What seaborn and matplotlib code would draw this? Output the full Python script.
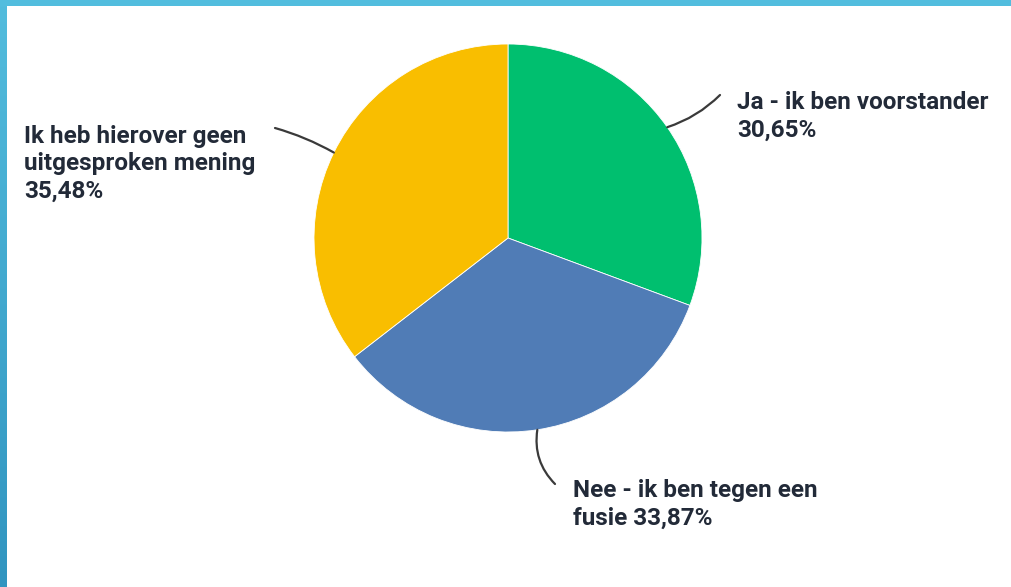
import numpy as np
import matplotlib
matplotlib.use("Agg")
import matplotlib.pyplot as plt
from matplotlib.patches import Rectangle
import seaborn as sns

# Survey answers: share of respondents per answer (in %)
labels = [
    "Ja - ik ben voorstander",
    "Nee - ik ben tegen een\nfusie",
    "Ik heb hierover geen\nuitgesproken mening",
]
shares = [30.65, 33.87, 35.48]
colors = ["#00BF6F", "#507CB6", "#F9BE00"]

sns.set_theme(style="white")
plt.rcParams["font.family"] = ["Roboto", "DejaVu Sans"]

W, H = 1012, 587
fig = plt.figure(figsize=(W / 100, H / 100), dpi=100)
fig.patch.set_facecolor("white")

ax = fig.add_axes([0, 0, 1, 1])
ax.set_xlim(0, W)
ax.set_ylim(0, H)
ax.set_aspect("equal")
ax.axis("off")

cx, cy, r = 508, H - 238, 194
wedges, _ = ax.pie(shares, colors=colors, startangle=90, counterclock=False,
                   center=(cx, cy), radius=r,
                   wedgeprops=dict(linewidth=0.6, edgecolor="white"))
ax.set_xlim(0, W)
ax.set_ylim(0, H)

def fmt(v):
    return f"{v:.2f}".replace(".", ",") + "%"

texts = [
    f"{labels[0]}\n{fmt(shares[0])}",
    f"{labels[1]} {fmt(shares[1])}",
    f"{labels[2]}\n{fmt(shares[2])}",
]
# label position (left x, top y in pixels from top), leader end, curvature
label_pos = [(737, 91), (573, 479), (24, 125)]
leader_end = [(720, 95), (555, 484), (275, 128)]
leader_rad = [-0.12, -0.25, -0.06]

text_color = "#222a38"
for w, txt, (tx, ty), (ex, ey), rad in zip(wedges, texts, label_pos, leader_end, leader_rad):
    ang = np.deg2rad((w.theta1 + w.theta2) / 2)
    ax_pt = (cx + r * np.cos(ang), cy + r * np.sin(ang))
    ax.annotate("", xy=ax_pt, xytext=(ex, H - ey),
                arrowprops=dict(arrowstyle="-", color="#3a3a3a", lw=1.6,
                                shrinkA=0, shrinkB=0,
                                connectionstyle=f"arc3,rad={rad}"))
    ax.text(tx, H - ty, txt, ha="left", va="top", fontsize=17.5,
            fontweight="semibold", color=text_color, linespacing=1.24)

# frame: top bar and gradient bar on the left
fig.patches.append(Rectangle((0, 1 - 6 / H), 1, 6 / H, transform=fig.transFigure,
                             facecolor="#52BDDE", edgecolor="none", zorder=5))
bar = fig.add_axes([0, 0, 7 / W, 1 - 6 / H])
grad = np.linspace(0, 1, 256).reshape(-1, 1)
cmap = matplotlib.colors.LinearSegmentedColormap.from_list("frame", ["#52BCDD", "#3195C0"])
bar.imshow(grad, aspect="auto", cmap=cmap, origin="upper")
bar.axis("off")

fig.savefig("out.png", dpi=100)
